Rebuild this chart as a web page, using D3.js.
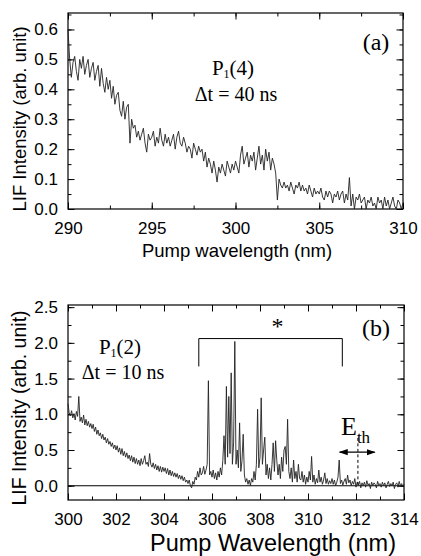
<!DOCTYPE html>
<html>
<head>
<meta charset="utf-8">
<script src="https://cdn.jsdelivr.net/npm/d3@7"></script>
<style>
  body { margin: 0; background: #fff; }
  svg { display: block; }
  .tick text { font-family: "Liberation Sans", Arial, sans-serif; fill: #000; }
  .ann { font-family: "Liberation Serif", "Times New Roman", serif; fill: #000; }
</style>
</head>
<body>
<script>
// Panel (a): P1(4), dt = 40 ns, 290-310 nm sampled every 0.1 nm
var wlA0 = 290, wlAStep = 0.1;
var lifA = [
  0.6, 0.5, 0.44, 0.49, 0.51, 0.46, 0.43, 0.5, 0.47, 0.51,
  0.45, 0.48, 0.5, 0.44, 0.47, 0.49, 0.43, 0.46, 0.48, 0.41,
  0.47, 0.42, 0.39, 0.44, 0.4, 0.43, 0.37, 0.41, 0.35, 0.38,
  0.39, 0.33, 0.31, 0.36, 0.3, 0.34, 0.35, 0.22, 0.3, 0.27,
  0.28, 0.24, 0.26, 0.23, 0.25, 0.27, 0.22, 0.19, 0.25, 0.23,
  0.24, 0.26, 0.21, 0.24, 0.22, 0.27, 0.23, 0.21, 0.25, 0.22,
  0.24, 0.21, 0.23, 0.25, 0.2, 0.24, 0.26, 0.22, 0.21, 0.24,
  0.22, 0.19, 0.21, 0.2, 0.17, 0.22, 0.2, 0.18, 0.21, 0.19,
  0.2, 0.16, 0.19, 0.14, 0.17, 0.15, 0.12, 0.16, 0.13, 0.09,
  0.14, 0.12, 0.15, 0.13, 0.11, 0.16, 0.14, 0.12, 0.15, 0.13,
  0.16, 0.14, 0.12, 0.18, 0.21, 0.15, 0.17, 0.19, 0.14, 0.18,
  0.16, 0.19, 0.13, 0.17, 0.21, 0.15, 0.18, 0.13, 0.2, 0.16,
  0.19, 0.13, 0.17, 0.15, 0.12, 0.03, 0.1, 0.08, 0.07, 0.09,
  0.07, 0.08, 0.06, 0.09, 0.07, 0.05, 0.08, 0.07, 0.09, 0.06,
  0.08, 0.06, 0.07, 0.05, 0.08, 0.06, 0.04, 0.07, 0.05, 0.06,
  0.05, 0.07, 0.04, 0.03, 0.06, 0.04, 0.06, 0.05, 0.02, 0.05,
  0.04, 0.06, 0.03, 0.05, 0.06, 0.02, 0.05, 0.03, 0.105, 0.01,
  0.05, 0.0, 0.04, 0.03, 0.05, 0.02, 0.03, 0.04, 0.0, 0.03,
  0.02, 0.04, 0.01, 0.02, 0.0, 0.04, 0.02, 0.03, 0.0, 0.04,
  0.01, 0.03, 0.0, 0.02, 0.04, 0.01, 0.0, 0.03, 0.02, 0.0,
  0.02
];
var xTicksA = [290, 295, 300, 305, 310];
var yTicksA = [0.0, 0.1, 0.2, 0.3, 0.4, 0.5, 0.6];

// Panel (b): P1(2), dt = 10 ns, 300-314 nm sampled every 0.05 nm
var wlB0 = 300, wlBStep = 0.05;
var lifB = [
  1.15, 1.02, 0.98, 1.05, 0.95, 1.01, 0.92, 1.04, 0.97, 1.25, 0.9, 0.96, 0.88, 0.99, 0.85, 0.93, 0.84, 0.9, 0.82, 0.87,
  0.8, 0.86, 0.76, 0.82, 0.72, 0.78, 0.7, 0.74, 0.66, 0.72, 0.64, 0.68, 0.6, 0.66, 0.58, 0.62, 0.55, 0.6, 0.52, 0.57,
  0.5, 0.56, 0.47, 0.53, 0.44, 0.52, 0.42, 0.48, 0.4, 0.46, 0.38, 0.43, 0.35, 0.42, 0.33, 0.4, 0.31, 0.38, 0.3, 0.36,
  0.28, 0.38, 0.3, 0.35, 0.42, 0.3, 0.33, 0.27, 0.45, 0.3, 0.26, 0.32, 0.24, 0.3, 0.22, 0.28, 0.2, 0.27, 0.19, 0.26,
  0.2, 0.25, 0.17, 0.24, 0.15, 0.22, 0.14, 0.2, 0.13, 0.18, 0.12, 0.17, 0.1, 0.15, 0.09, 0.14, 0.07, 0.12, 0.05, 0.08,
  0.03, 0.08, 0.0, -0.03, 0.06, 0.02, 0.12, 0.08, 0.2, 0.12, 0.25, 0.15, 0.18, 0.27, 0.16, 0.22, 0.3, 1.47, 0.15, 0.2,
  0.12, 0.22, 0.1, 0.18, 0.08, 0.2, 0.12, 0.25, 0.15, 0.35, 0.7, 0.3, 1.39, 0.4, 1.25, 0.45, 1.58, 0.3, 0.6, 2.02,
  0.3, 0.5, 0.25, 0.88, 0.2, 0.35, 0.72, 0.15, 0.05, 0.1, 0.02, 0.08, 0.0, 0.1, 0.05, 0.2, 0.08, 0.3, 1.07, 0.25,
  0.4, 1.23, 0.3, 0.5, 0.68, 0.15, 0.3, 0.1, 0.25, 0.08, 0.3, 0.6, 0.2, 0.63, 0.35, 0.15, 0.3, 0.1, 0.4, 0.2,
  0.5, 0.55, 0.3, 0.93, 0.2, 0.1, 0.25, 0.05, 0.36, 0.1, 0.2, 0.05, 0.3, 0.1, 0.08, 0.2, 0.05, 0.15, 0.02, 0.12,
  0.05, 0.2, 0.08, 0.41, 0.05, 0.15, 0.02, 0.1, 0.04, 0.22, 0.05, 0.12, 0.02, 0.08, 0.18, 0.03, 0.1, 0.02, 0.07, 0.03,
  0.1, 0.02, 0.08, 0.0, 0.05, 0.12, 0.36, 0.03, 0.08, 0.01, 0.06, 0.1, 0.02, 0.15, 0.04, 0.08, 0.0, 0.06, 0.02, 0.1,
  -0.02, 0.05, 0.01, 0.06, -0.03, 0.04, 0.0, 0.05, -0.02, 0.07, 0.01, 0.03, -0.04, 0.05, 0.0, 0.04, 0.02, -0.03, 0.06, 0.01,
  0.03, -0.02, 0.05, 0.0, 0.04, -0.03, 0.02, 0.06, -0.01, 0.03, 0.0, 0.05, -0.04, 0.02, 0.04, -0.02, 0.06, 0.0, 0.03, -0.01,
  0.02
];
var xTicksB = [300, 302, 304, 306, 308, 310, 312, 314];
var yTicksB = [0.0, 0.5, 1.0, 1.5, 2.0, 2.5];

// Annotation anchors in data units
var bracketB = { x0: 305.45, x1: 311.43, yTop: 2.06, yLeg: 1.67 };
var ethB = { x: 312.08, yTop: 0.67, arrowY: 0.47, arrowX0: 311.32, arrowX1: 312.78 };

var svg = d3.select("body").append("svg")
    .attr("width", 421)
    .attr("height", 556);

var defs = svg.append("defs");
defs.append("marker")
    .attr("id", "arrowEnd")
    .attr("viewBox", "0 0 10 10")
    .attr("refX", 9).attr("refY", 5)
    .attr("markerWidth", 9).attr("markerHeight", 9)
    .attr("markerUnits", "userSpaceOnUse")
    .attr("orient", "auto-start-reverse")
    .append("path").attr("d", "M0,1.5 L10,5 L0,8.5 Z").attr("fill", "#000");

var drawPanel = function (cfg) {
    var x = d3.scaleLinear().domain(cfg.xDomain).range([cfg.left, cfg.right]);
    var y = d3.scaleLinear().domain(cfg.yDomain).range([cfg.bottom, cfg.top]);
    var g = svg.append("g");

    var xMinor = d3.range(cfg.xDomain[0], cfg.xDomain[1] + 1e-9, cfg.xMinorStep);
    var yMinor = d3.range(cfg.yTicks[0], cfg.yDomain[1] + 1e-9, cfg.yMinorStep);
    if (cfg.yDomain[0] < cfg.yTicks[0]) yMinor.unshift(cfg.yTicks[0] - cfg.yMinorStep);
    yMinor = yMinor.filter(function (v) { return v >= cfg.yDomain[0]; });

    // minor ticks on all four sides
    g.append("g").attr("transform", "translate(0," + cfg.bottom + ")")
        .call(d3.axisBottom(x).tickValues(xMinor).tickSize(-3.5).tickFormat(""));
    g.append("g").attr("transform", "translate(0," + cfg.top + ")")
        .call(d3.axisTop(x).tickValues(xMinor).tickSize(-3.5).tickFormat(""));
    g.append("g").attr("transform", "translate(" + cfg.left + ",0)")
        .call(d3.axisLeft(y).tickValues(yMinor).tickSize(-3.5).tickFormat(""));
    g.append("g").attr("transform", "translate(" + cfg.right + ",0)")
        .call(d3.axisRight(y).tickValues(yMinor).tickSize(-3.5).tickFormat(""));

    // major ticks with labels
    var xa = g.append("g").attr("transform", "translate(0," + cfg.bottom + ")")
        .call(d3.axisBottom(x).tickValues(cfg.xTicks).tickSize(-6.5).tickPadding(cfg.xPad).tickFormat(d3.format("d")));
    xa.selectAll("text").style("font-size", "17px");
    g.append("g").attr("transform", "translate(0," + cfg.top + ")")
        .call(d3.axisTop(x).tickValues(cfg.xTicks).tickSize(-6.5).tickFormat(""));
    var ya = g.append("g").attr("transform", "translate(" + cfg.left + ",0)")
        .call(d3.axisLeft(y).tickValues(cfg.yTicks).tickSize(-6.5).tickPadding(10).tickFormat(d3.format(".1f")));
    ya.selectAll("text").style("font-size", "17px");
    g.append("g").attr("transform", "translate(" + cfg.right + ",0)")
        .call(d3.axisRight(y).tickValues(cfg.yTicks).tickSize(-6.5).tickFormat(""));

    g.selectAll(".domain").remove();
    g.selectAll(".tick line").attr("stroke", "#000").attr("stroke-width", 1);

    // frame
    g.append("rect")
        .attr("x", cfg.left).attr("y", cfg.top)
        .attr("width", cfg.right - cfg.left).attr("height", cfg.bottom - cfg.top)
        .attr("fill", "none").attr("stroke", "#000").attr("stroke-width", 1.2);

    // axis titles
    g.append("text")
        .attr("x", cfg.xTitleX).attr("y", cfg.xTitleY)
        .attr("text-anchor", "middle")
        .style("font-family", "'Liberation Sans', Arial, sans-serif")
        .style("font-size", cfg.xTitleSize + "px")
        .text(cfg.xTitle);
    g.append("text")
        .attr("transform", "translate(" + cfg.yTitleX + "," + cfg.yTitleY + ") rotate(-90)")
        .attr("text-anchor", "middle")
        .style("font-family", "'Liberation Sans', Arial, sans-serif")
        .style("font-size", cfg.yTitleSize + "px")
        .text("LIF Intensity (arb. unit)");

    return { g: g, x: x, y: y };
};

// ---- panel (a)
var pa = drawPanel({
    left: 68, right: 403, top: 13, bottom: 209,
    xDomain: [290, 310], yDomain: [0, 0.655],
    xTicks: xTicksA, yTicks: yTicksA, xMinorStep: 2.5, yMinorStep: 0.05,
    xPad: 13, xTitle: "Pump wavelength (nm)", xTitleX: 237, xTitleY: 257, xTitleSize: 18.5,
    yTitleX: 26, yTitleY: 119, yTitleSize: 18.5
});
var lineA = d3.line()
    .x(function (d, i) { return pa.x(wlA0 + i * wlAStep); })
    .y(function (d) { return pa.y(d); });
pa.g.append("path")
    .datum(lifA)
    .attr("d", lineA)
    .attr("fill", "none").attr("stroke", "#222").attr("stroke-width", 0.9);

pa.g.append("text").attr("class", "ann")
    .attr("x", 376).attr("y", 50).attr("text-anchor", "middle")
    .style("font-size", "24px").text("(a)");
var p4 = pa.g.append("text").attr("class", "ann")
    .attr("x", 233).attr("y", 75).attr("text-anchor", "middle")
    .style("font-size", "21px");
p4.append("tspan").text("P");
p4.append("tspan").attr("dy", 3).style("font-size", "12px").text("1");
p4.append("tspan").attr("dy", -3).text("(4)");
pa.g.append("text").attr("class", "ann")
    .attr("x", 236).attr("y", 101).attr("text-anchor", "middle")
    .style("font-size", "20px").text("\u0394t = 40 ns");

// ---- panel (b)
var pb = drawPanel({
    left: 68, right: 404, top: 305, bottom: 500,
    xDomain: [300, 314], yDomain: [-0.2, 2.53],
    xTicks: xTicksB, yTicks: yTicksB, xMinorStep: 1, yMinorStep: 0.25,
    xPad: 13, xTitle: "Pump Wavelength (nm)", xTitleX: 273, xTitleY: 551, xTitleSize: 23.5,
    yTitleX: 26, yTitleY: 408, yTitleSize: 19.5
});
pb.g.append("line")
    .attr("x1", pb.x(300)).attr("x2", pb.x(314))
    .attr("y1", pb.y(0)).attr("y2", pb.y(0))
    .attr("stroke", "#000").attr("stroke-width", 1.1);
var lineB = d3.line()
    .x(function (d, i) { return pb.x(wlB0 + i * wlBStep); })
    .y(function (d) { return pb.y(d); });
pb.g.append("path")
    .datum(lifB)
    .attr("d", lineB)
    .attr("fill", "none").attr("stroke", "#222").attr("stroke-width", 0.9);

// bracket over the structured region
pb.g.append("path")
    .attr("d", "M" + pb.x(bracketB.x0) + "," + pb.y(bracketB.yLeg) +
        "V" + pb.y(bracketB.yTop) + "H" + pb.x(bracketB.x1) + "V" + pb.y(bracketB.yLeg))
    .attr("fill", "none").attr("stroke", "#000").attr("stroke-width", 1);
pb.g.append("text").attr("class", "ann")
    .attr("x", 277.5).attr("y", 334).attr("text-anchor", "middle")
    .style("font-size", "24px").text("*");

// threshold marker
pb.g.append("line")
    .attr("x1", pb.x(ethB.x)).attr("x2", pb.x(ethB.x))
    .attr("y1", pb.y(ethB.yTop)).attr("y2", pb.y(0))
    .attr("stroke", "#000").attr("stroke-width", 1).attr("stroke-dasharray", "3,2.5");
pb.g.append("line")
    .attr("x1", pb.x(ethB.arrowX0)).attr("x2", pb.x(ethB.arrowX1))
    .attr("y1", pb.y(ethB.arrowY)).attr("y2", pb.y(ethB.arrowY))
    .attr("stroke", "#000").attr("stroke-width", 1.1)
    .attr("marker-start", "url(#arrowEnd)").attr("marker-end", "url(#arrowEnd)");
var eth = pb.g.append("text").attr("class", "ann")
    .attr("x", 341).attr("y", 435)
    .style("font-size", "26px");
eth.append("tspan").text("E");
eth.append("tspan").attr("dy", 8).style("font-size", "17px").text("th");

pb.g.append("text").attr("class", "ann")
    .attr("x", 376).attr("y", 336).attr("text-anchor", "middle")
    .style("font-size", "24px").text("(b)");
var p2 = pb.g.append("text").attr("class", "ann")
    .attr("x", 120).attr("y", 354).attr("text-anchor", "middle")
    .style("font-size", "21px");
p2.append("tspan").text("P");
p2.append("tspan").attr("dy", 3).style("font-size", "12px").text("1");
p2.append("tspan").attr("dy", -3).text("(2)");
pb.g.append("text").attr("class", "ann")
    .attr("x", 123).attr("y", 379).attr("text-anchor", "middle")
    .style("font-size", "20px").text("\u0394t = 10 ns");
</script>
</body>
</html>
